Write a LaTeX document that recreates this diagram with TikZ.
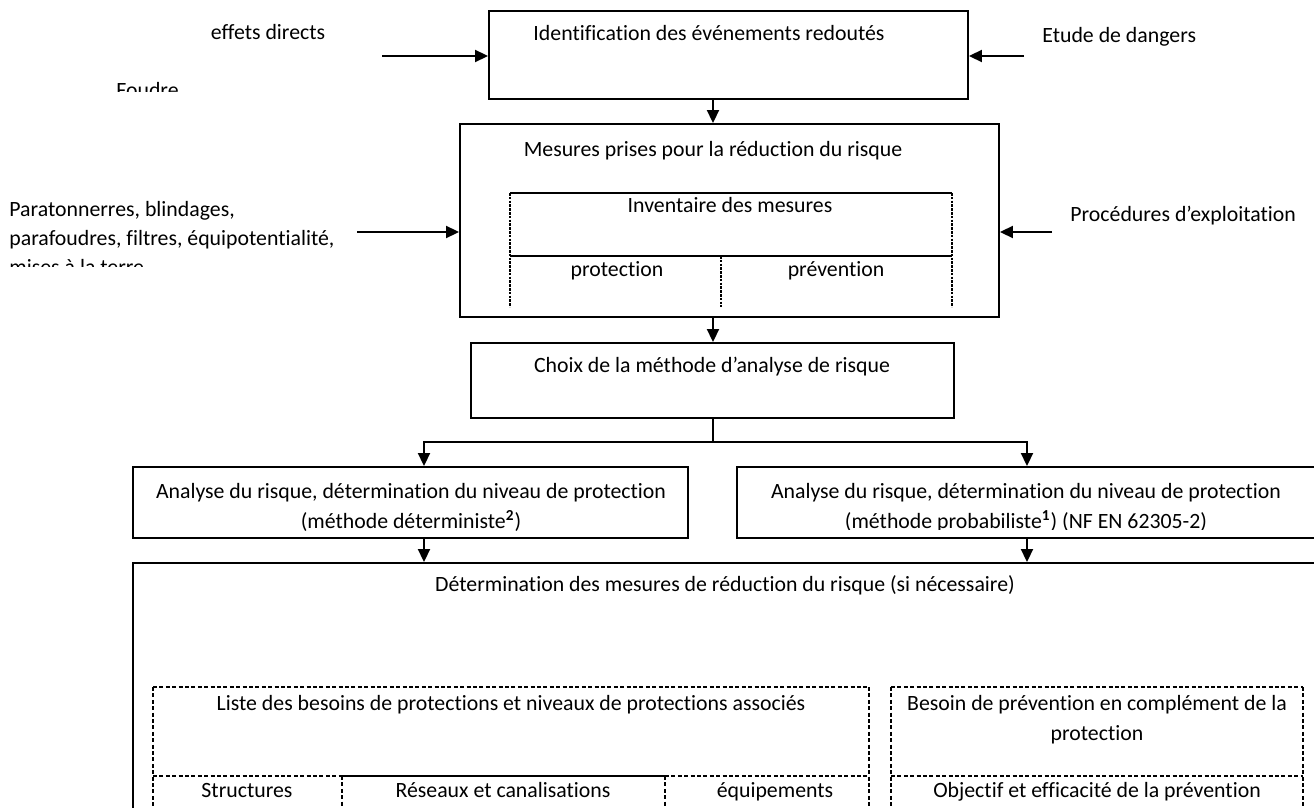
\documentclass[tikz,border=0pt]{standalone}
\usepackage{fontspec}
\setmainfont{Carlito}[Ligatures={NoCommon}]
\usetikzlibrary{arrows.meta}
\begin{document}
\begin{tikzpicture}[x=0.5pt,y=-0.5pt,
  font=\fontsize{10.9}{15}\selectfont,
  box/.style={draw, line width=0.95pt, inner sep=0pt},
  arr/.style={-{Triangle[length=6.5pt,width=6pt]}, line width=0.95pt},
  lbl/.style={anchor=base, inner sep=0pt},
  lblw/.style={anchor=base west, inner sep=0pt},
  solidline/.style={line width=0.95pt},
  fine/.style={line width=0.95pt, dash pattern=on 1.3pt off 0.6pt},
  dsh/.style={line width=0.9pt, dash pattern=on 2pt off 1.2pt}]
\useasboundingbox (0,0) rectangle (1314,808);
\clip (0,0) rectangle (1314,808);

% boxes
\node[box, minimum width=239.5pt, minimum height=44pt] (b1) at (728.5,55) {};
\node[box, minimum width=269.5pt, minimum height=96.5pt] (b2) at (729.5,220.5) {};
\node[box, minimum width=241.5pt, minimum height=37.5pt] (b3) at (712.5,380.5) {};
\node[box, minimum width=277.5pt, minimum height=35.5pt] (b4) at (410.5,502.5) {};
\node[box, minimum width=290pt, minimum height=35.5pt] (b6) at (1027,502.5) {};
\node[box, minimum width=592pt, minimum height=133.5pt] (b5) at (725,696.5) {};

% texts
\node[lbl] (t1) at (709,41) {Identification des événements redoutés};
\node[lbl] (ed) at (268,40) {effets directs};
\begin{scope}
  \clip (0,0) rectangle (480,92);
  \node[lbl] (fo) at (147.5,97.5) {Foudre};
\end{scope}
\node[lblw] (et) at (1042,43) {Etude de dangers};

\node[lbl] (t2) at (713,157) {Mesures prises pour la réduction du risque};
\node[lbl] (inv) at (730,213) {Inventaire des mesures};
\node[lbl] (prot) at (617,277) {protection};
\node[lbl] (prev) at (836,277) {prévention};
\node[lblw] (pa1) at (9,217) {Paratonnerres, blindages,};
\node[lblw] (pa2) at (9,246) {parafoudres, filtres, équipotentialité,};
\begin{scope}
  \clip (0,0) rectangle (480,267);
  \node[lblw] (pa3) at (9,275) {mises à la terre};
\end{scope}
\node[lblw] (pe) at (1070,221) {Procédures d’exploitation};

\node[lbl] (t3) at (712,372) {Choix de la méthode d’analyse de risque};

\node[lbl] (t4a) at (411,498) {Analyse du risque, détermination du niveau de protection};
\node[lbl] (t4b) at (411,528) {(méthode déterministe\textsuperscript{\textbf{2}})};
\node[lbl] (t6a) at (1026,498) {Analyse du risque, détermination du niveau de protection};
\begin{scope}
  \clip (737,467) rectangle (1317,529);
  \node[lbl] (t6b) at (1026,528) {(méthode probabiliste\textsuperscript{\textbf{1}}) (NF EN 62305-2)};
\end{scope}

\node[lbl] (t5) at (725,591) {Détermination des mesures de réduction du risque (si nécessaire)};
\node[lbl] (li) at (511,710) {Liste des besoins de protections et niveaux de protections associés};
\node[lbl] (be1) at (1097,710) {Besoin de prévention en complément de la};
\node[lbl] (be2) at (1097,740) {protection};
\node[lbl] (st) at (247,797) {Structures};
\node[lbl] (re) at (503,797) {Réseaux et canalisations};
\node[lbl] (eq) at (775,797) {équipements};
\node[lbl] (ob) at (1097,797) {Objectif et efficacité de la prévention};

% inventaire table
\draw[solidline] (510,193) -- (952,193);
\draw[solidline] (510,256) -- (952,256);
\draw[fine] (510,193) -- (510,307);
\draw[fine] (952,193) -- (952,307);
\draw[fine] (721,256) -- (721,307);

% bottom tables
\draw[dsh] (153,687) -- (869,687);
\draw[dsh] (153,687) -- (153,812);
\draw[dsh] (869,687) -- (869,812);
\draw[dsh] (153,776) -- (342,776);
\draw[solidline] (342,776) -- (665,776);
\draw[dsh] (665,776) -- (869,776);
\draw[dsh] (342,776) -- (342,812);
\draw[dsh] (665,776) -- (665,812);
\draw[dsh] (891,687) -- (1303,687);
\draw[dsh] (891,687) -- (891,812);
\draw[dsh] (1303,687) -- (1303,812);
\draw[dsh] (891,776) -- (1303,776);

% connectors
\coordinate (spine) at (713,0);
\coordinate (a1) at (382,56);
\coordinate (a2) at (1024,56);
\coordinate (a3) at (357,232);
\coordinate (a4) at (1052,232);
\coordinate (br) at (713,442);
\coordinate (L) at (424,442);
\coordinate (R) at (1027,442);

\draw[arr] (a1) -- (a1 -| b1.west);
\draw[arr] (a2) -- (a2 -| b1.east);
\draw[arr] (a3) -- (a3 -| b2.west);
\draw[arr] (a4) -- (a4 -| b2.east);
\draw[arr] (b1.south -| spine) -- (b2.north -| spine);
\draw[arr] (b2.south -| spine) -- (b3.north -| spine);
\draw[solidline] (b3.south -| br) -- (br);
\draw[arr] (br) -- (L) -- (b4.north -| L);
\draw[arr] (br) -- (R) -- (b6.north -| R);
\draw[arr] (b4.south -| L) -- (b5.north -| L);
\draw[arr] (b6.south -| R) -- (b5.north -| R);
\end{tikzpicture}
\end{document}
